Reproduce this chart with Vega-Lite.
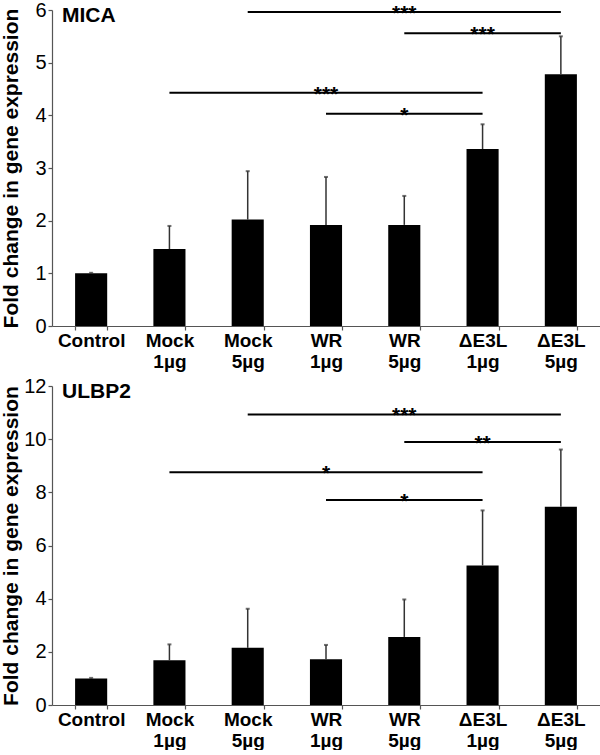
{
  "$schema": "https://vega.github.io/schema/vega-lite/v6.json",
  "padding": 0,
  "spacing": 5,
  "background": "white",
  "config": {
    "font": "Liberation Sans",
    "view": {"stroke": null},
    "axis": {"domainColor": "#555", "tickColor": "#555", "labelColor": "black", "titleColor": "black", "grid": false, "domainWidth": 1.2, "tickWidth": 1.2},
    "axisX": {"title": null, "labelAngle": 0, "labelExpr": "split(datum.label, ' ')", "labelFontSize": 19, "labelFontWeight": "bold", "labelLineHeight": 21, "tickBand": "extent", "tickSize": 4, "labelPadding": 1},
    "axisY": {"titleFontSize": 21, "titleFontWeight": "bold", "labelFontSize": 20, "tickSize": 4, "labelPadding": 2, "minExtent": 28, "maxExtent": 28, "titlePadding": 3}
  },
  "datasets": {
    "micaBars": [
      {"g": "Control", "value": 1.0, "err": 1.01},
      {"g": "Mock 1µg", "value": 1.46, "err": 1.9},
      {"g": "Mock 5µg", "value": 2.02, "err": 2.94},
      {"g": "WR 1µg", "value": 1.92, "err": 2.83},
      {"g": "WR 5µg", "value": 1.92, "err": 2.47},
      {"g": "ΔE3L 1µg", "value": 3.36, "err": 3.83},
      {"g": "ΔE3L 5µg", "value": 4.78, "err": 5.5}
    ],
    "ulbpBars": [
      {"g": "Control", "value": 1.0, "err": 1.02},
      {"g": "Mock 1µg", "value": 1.68, "err": 2.28},
      {"g": "Mock 5µg", "value": 2.15, "err": 3.62},
      {"g": "WR 1µg", "value": 1.72, "err": 2.26},
      {"g": "WR 5µg", "value": 2.56, "err": 3.97},
      {"g": "ΔE3L 1µg", "value": 5.25, "err": 7.32},
      {"g": "ΔE3L 5µg", "value": 7.46, "err": 9.61}
    ],
    "micaSig": [
      {"from": "Mock 5µg", "to": "ΔE3L 5µg", "mid": "WR 5µg", "y": 5.96, "label": "***"},
      {"from": "WR 5µg", "to": "ΔE3L 5µg", "mid": "ΔE3L 1µg", "y": 5.56, "label": "***"},
      {"from": "Mock 1µg", "to": "ΔE3L 1µg", "mid": "WR 1µg", "y": 4.43, "label": "***"},
      {"from": "WR 1µg", "to": "ΔE3L 1µg", "mid": "WR 5µg", "y": 4.03, "label": "*"}
    ],
    "ulbpSig": [
      {"from": "Mock 5µg", "to": "ΔE3L 5µg", "mid": "WR 5µg", "y": 10.93, "label": "***"},
      {"from": "WR 5µg", "to": "ΔE3L 5µg", "mid": "ΔE3L 1µg", "y": 9.89, "label": "**"},
      {"from": "Mock 1µg", "to": "ΔE3L 1µg", "mid": "WR 1µg", "y": 8.76, "label": "*"},
      {"from": "WR 1µg", "to": "ΔE3L 1µg", "mid": "WR 5µg", "y": 7.71, "label": "*"}
    ]
  },
  "vconcat": [
    {
      "width": 548,
      "height": 316,
      "title": {"text": "MICA", "anchor": "start", "frame": "group", "offset": -26, "dx": 10, "fontSize": 21, "fontWeight": "bold", "color": "black"},
      "layer": [
        {
          "data": {"name": "micaBars"},
          "mark": {"type": "bar", "color": "black"},
          "encoding": {
            "x": {"field": "g", "type": "nominal", "sort": null, "title": null,
              "scale": {"domain": ["Control", "Mock 1µg", "Mock 5µg", "WR 1µg", "WR 5µg", "ΔE3L 1µg", "ΔE3L 5µg"], "paddingInner": 0.59, "paddingOuter": 0.295}},
            "y": {"field": "value", "type": "quantitative", "title": "Fold change in gene expression",
              "scale": {"domain": [0, 6], "nice": false},
              "axis": {"values": [0, 1, 2, 3, 4, 5, 6]}}
          }
        },
        {
          "data": {"name": "micaBars"},
          "mark": {"type": "rule", "color": "#333", "strokeWidth": 1.5},
          "encoding": {
            "x": {"field": "g", "type": "nominal", "sort": null, "title": null},
            "y": {"field": "value", "type": "quantitative", "title": "Fold change in gene expression"},
            "y2": {"field": "err"}
          }
        },
        {
          "data": {"name": "micaBars"},
          "mark": {"type": "tick", "color": "#333", "size": 4, "thickness": 2, "orient": "horizontal"},
          "encoding": {
            "x": {"field": "g", "type": "nominal", "sort": null, "title": null},
            "y": {"field": "err", "type": "quantitative", "title": "Fold change in gene expression"}
          }
        },
        {
          "data": {"name": "micaSig"},
          "mark": {"type": "rule", "color": "black", "strokeWidth": 2},
          "encoding": {
            "x": {"field": "from", "type": "nominal", "title": null},
            "x2": {"field": "to"},
            "y": {"field": "y", "type": "quantitative", "title": "Fold change in gene expression"}
          }
        },
        {
          "data": {"name": "micaSig"},
          "mark": {"type": "text", "color": "black", "fontSize": 21, "fontWeight": "bold", "baseline": "alphabetic", "dy": 8},
          "encoding": {
            "x": {"field": "mid", "type": "nominal", "title": null},
            "y": {"field": "y", "type": "quantitative", "title": "Fold change in gene expression"},
            "text": {"field": "label"}
          }
        }
      ]
    },
    {
      "width": 548,
      "height": 319,
      "title": {"text": "ULBP2", "anchor": "start", "frame": "group", "offset": -26, "dx": 10, "fontSize": 21, "fontWeight": "bold", "color": "black"},
      "layer": [
        {
          "data": {"name": "ulbpBars"},
          "mark": {"type": "bar", "color": "black"},
          "encoding": {
            "x": {"field": "g", "type": "nominal", "sort": null, "title": null,
              "scale": {"domain": ["Control", "Mock 1µg", "Mock 5µg", "WR 1µg", "WR 5µg", "ΔE3L 1µg", "ΔE3L 5µg"], "paddingInner": 0.59, "paddingOuter": 0.295}},
            "y": {"field": "value", "type": "quantitative", "title": "Fold change in gene expression",
              "scale": {"domain": [0, 12], "nice": false},
              "axis": {"values": [0, 2, 4, 6, 8, 10, 12]}}
          }
        },
        {
          "data": {"name": "ulbpBars"},
          "mark": {"type": "rule", "color": "#333", "strokeWidth": 1.5},
          "encoding": {
            "x": {"field": "g", "type": "nominal", "sort": null, "title": null},
            "y": {"field": "value", "type": "quantitative", "title": "Fold change in gene expression"},
            "y2": {"field": "err"}
          }
        },
        {
          "data": {"name": "ulbpBars"},
          "mark": {"type": "tick", "color": "#333", "size": 4, "thickness": 2, "orient": "horizontal"},
          "encoding": {
            "x": {"field": "g", "type": "nominal", "sort": null, "title": null},
            "y": {"field": "err", "type": "quantitative", "title": "Fold change in gene expression"}
          }
        },
        {
          "data": {"name": "ulbpSig"},
          "mark": {"type": "rule", "color": "black", "strokeWidth": 2},
          "encoding": {
            "x": {"field": "from", "type": "nominal", "title": null},
            "x2": {"field": "to"},
            "y": {"field": "y", "type": "quantitative", "title": "Fold change in gene expression"}
          }
        },
        {
          "data": {"name": "ulbpSig"},
          "mark": {"type": "text", "color": "black", "fontSize": 21, "fontWeight": "bold", "baseline": "alphabetic", "dy": 8},
          "encoding": {
            "x": {"field": "mid", "type": "nominal", "title": null},
            "y": {"field": "y", "type": "quantitative", "title": "Fold change in gene expression"},
            "text": {"field": "label"}
          }
        }
      ]
    }
  ]
}
